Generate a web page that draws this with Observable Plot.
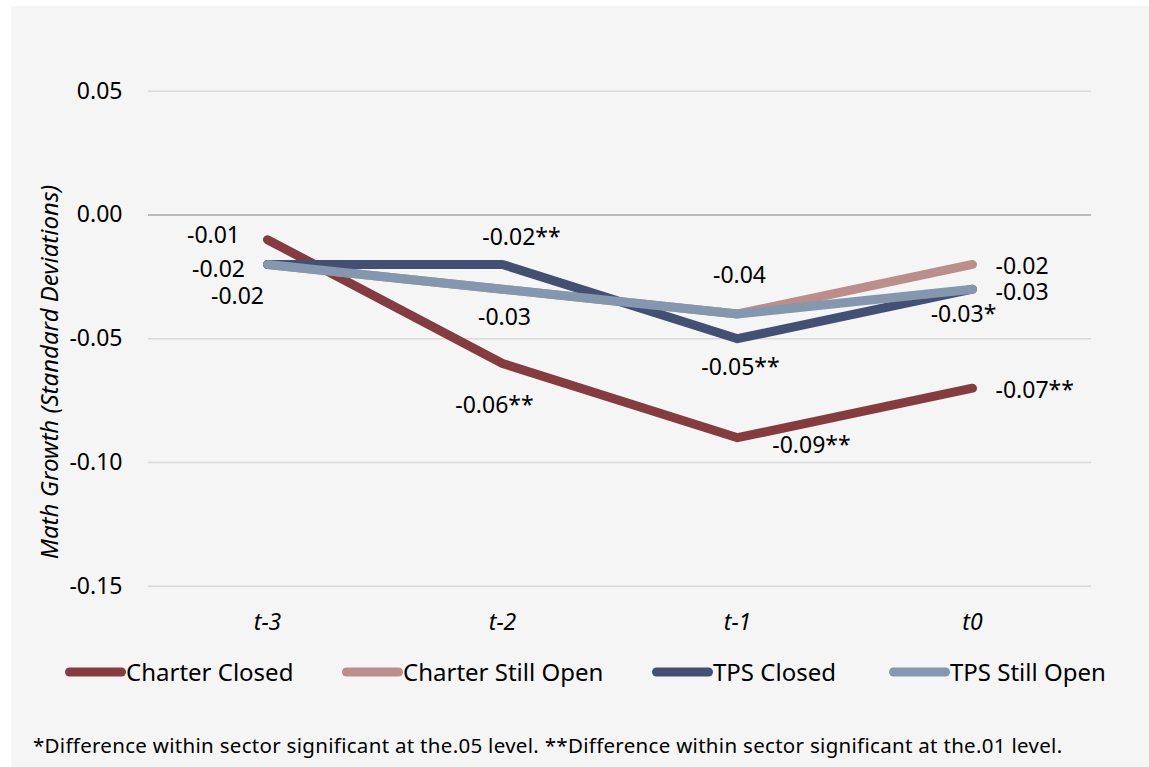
<!DOCTYPE html>
<html>
<head>
<meta charset="utf-8">
<script src="https://cdn.jsdelivr.net/npm/d3@7"></script>
<script src="https://cdn.jsdelivr.net/npm/@observablehq/plot@0.6"></script>
<style>
  html, body { margin: 0; padding: 0; background: #ffffff; }
  body { width: 1149px; height: 767px; overflow: hidden; position: relative; font-family: "Noto Sans", sans-serif; color: #000; }
  #panel { position: absolute; left: 11px; top: 6px; width: 1138px; height: 761px; background: #f5f5f5; }
  #chart { position: absolute; left: 0; top: 0; }
  #legend { position: absolute; left: 0; top: 649px; width: 1138px; height: 34px; font-size: 24px; line-height: 34px; }
  .item { position: absolute; top: 0; display: flex; align-items: center; white-space: nowrap; }
  .item svg { display: block; }
  #note { position: absolute; left: 22px; top: 725px; font-size: 20.5px; letter-spacing: 0.3px; line-height: 28px; white-space: nowrap; }
</style>
</head>
<body>
<div id="panel">
  <div id="chart"></div>
  <div id="legend"></div>
  <div id="note"></div>
</div>
<script>
// Time periods relative to closure
const periods = ["t-3", "t-2", "t-1", "t0"];

// Series names and colours
const seriesNames = ["Charter Closed", "Charter Still Open", "TPS Closed", "TPS Still Open"];
const seriesColors = ["#843c41", "#bc8e8b", "#434f73", "#8497ae"];

// Math growth (standard deviations) by period
const charterClosed    = [-0.01, -0.06, -0.09, -0.07];
const charterStillOpen = [-0.02, -0.03, -0.04, -0.02];
const tpsClosed        = [-0.02, -0.02, -0.05, -0.03];
const tpsStillOpen     = [-0.02, -0.03, -0.04, -0.03];

// Significance markers for each point
const charterClosedSig    = ["", "**", "**", "**"];
const charterStillOpenSig = ["", "", "", ""];
const tpsClosedSig        = ["", "**", "**", "*"];
const tpsStillOpenSig     = ["", "", "", ""];

const yTicks = [0.05, 0.00, -0.05, -0.10, -0.15];
const yTitle = "Math Growth (Standard Deviations)";
const footnote = "*Difference within sector significant at the.05 level. **Difference within sector significant at the.01 level.";

const seriesValues = [charterClosed, charterStillOpen, tpsClosed, tpsStillOpen];
const seriesSig = [charterClosedSig, charterStillOpenSig, tpsClosedSig, tpsStillOpenSig];

// Label placement per series and period (null = label not shown)
const labelPlacement = [
  [{dx: -54, dy: -4}, {dx: -8, dy: 42}, {dx: 74, dy: 7.5}, {dx: 23, dy: 2, anchor: "start"}],
  [null, null, null, {dx: 23, dy: 2.5, anchor: "start"}],
  [{dx: -49, dy: 5}, {dx: 19, dy: -26.5}, {dx: 3, dy: 28.5}, {dx: -9, dy: 25}],
  [{dx: -30, dy: 32}, {dx: 2, dy: 28.5}, {dx: 2, dy: -38}, {dx: 23, dy: 3, anchor: "start"}]
];

// Legend entry offsets (left edge of each swatch within the panel)
const legendLeft = [54, 331, 641, 878];

const fmt = v => v.toFixed(2);

const rows = seriesNames.flatMap((name, s) =>
  periods.map((period, i) => ({series: name, period, value: seriesValues[s][i], sig: seriesSig[s][i], place: labelPlacement[s][i]}))
);

const labelMarks = rows.filter(d => d.place).map(d =>
  Plot.text([d], {
    x: "period",
    y: "value",
    text: r => fmt(r.value) + r.sig,
    dx: d.place.dx,
    dy: d.place.dy,
    textAnchor: d.place.anchor || "middle",
    fill: "#000",
    fontSize: 23
  })
);

const W = 1138, H = 634;
const chart = Plot.plot({
  width: W,
  height: H,
  marginLeft: 137,
  marginRight: 58,
  marginTop: 84.7,
  marginBottom: 54.3,
  style: {background: "transparent", fontFamily: "Noto Sans, sans-serif", fontSize: "23px", color: "#000", overflow: "visible"},
  x: {type: "point", domain: periods, padding: 0.5},
  y: {domain: [-0.15, 0.05]},
  color: {domain: seriesNames, range: seriesColors},
  marks: [
    Plot.ruleY(yTicks.filter(t => t !== 0), {stroke: "#d9d9d9", strokeWidth: 1.5}),
    Plot.ruleY([0], {stroke: "#a6a6a6", strokeWidth: 1.5}),
    Plot.axisY({ticks: yTicks, tickFormat: fmt, tickSize: 0, tickPadding: 26, label: null, fontSize: 23, fill: "#000"}),
    Plot.axisX({tickSize: 0, tickPadding: 27, label: null, fontSize: 23, fontStyle: "italic", fill: "#000"}),
    Plot.text([yTitle], {frameAnchor: "left", textAnchor: "middle", rotate: -90, dx: -98, dy: 33.3, fontSize: 24, fontStyle: "italic", fill: "#000"}),
    Plot.line(rows, {x: "period", y: "value", z: "series", stroke: "series", strokeWidth: 9, strokeLinecap: "round", strokeLinejoin: "round"}),
    ...labelMarks
  ]
});
document.getElementById("chart").appendChild(chart);

// Legend
const legend = d3.select("#legend");
seriesNames.forEach((name, i) => {
  const item = legend.append("div").attr("class", "item").style("left", legendLeft[i] + "px");
  const sw = item.append("svg").attr("width", 61).attr("height", 12);
  sw.append("line").attr("x1", 4.5).attr("x2", 56.5).attr("y1", 6).attr("y2", 6)
    .attr("stroke", seriesColors[i]).attr("stroke-width", 9).attr("stroke-linecap", "round");
  item.append("span").text(name);
});

d3.select("#note").text(footnote);
</script>
</body>
</html>
